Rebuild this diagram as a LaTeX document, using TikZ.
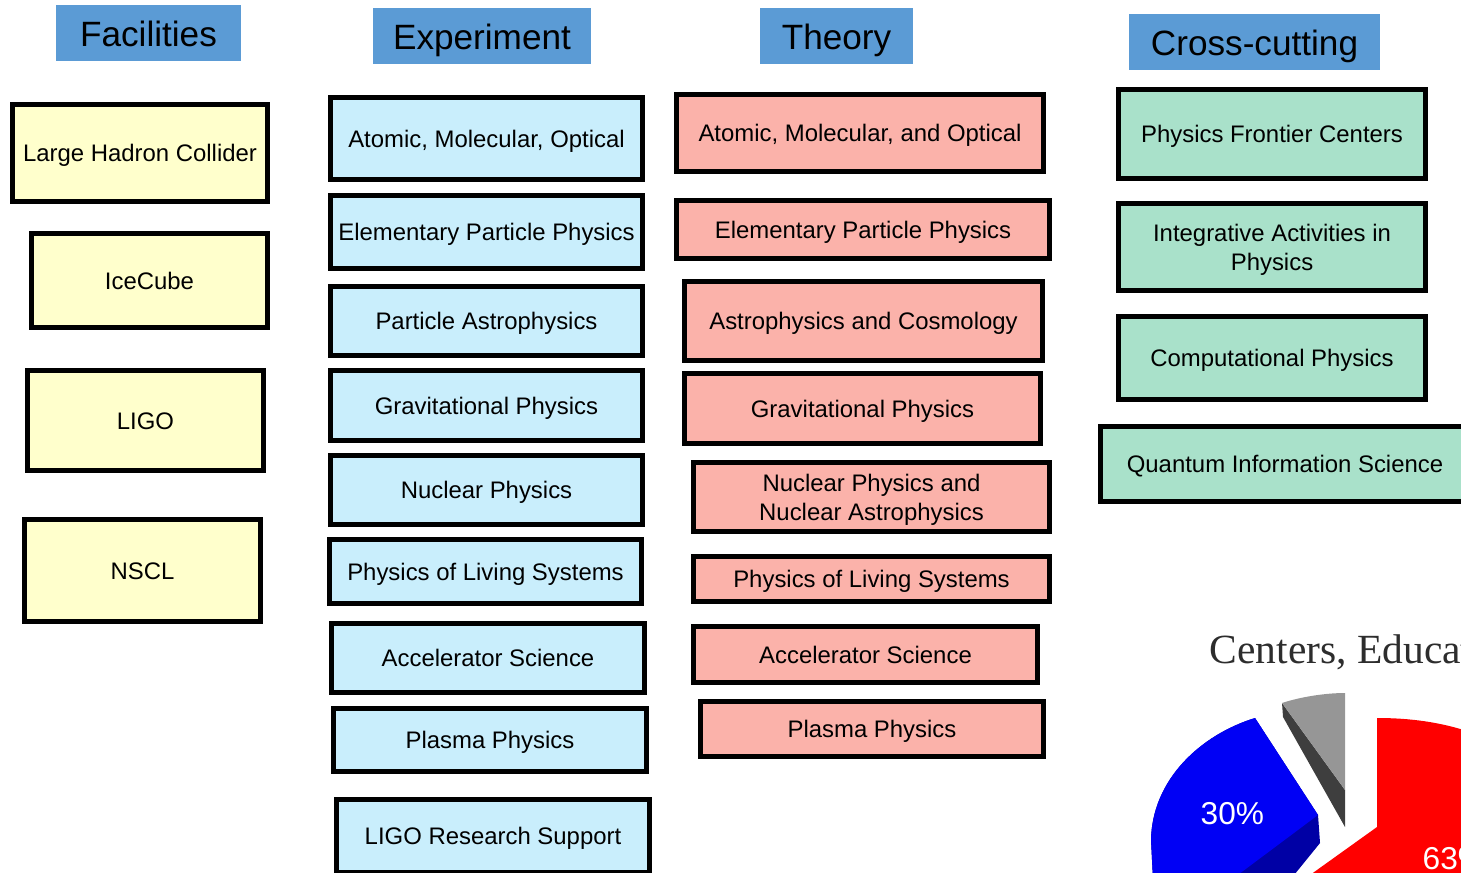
\documentclass[tikz,border=0pt]{standalone}
\usepackage{fontspec}
\setmainfont{Liberation Sans}
\newfontfamily\titleserif{Liberation Serif}
\usepackage{tikz}

\definecolor{hdrblue}{RGB}{91,155,213}
\definecolor{facyellow}{RGB}{255,255,204}
\definecolor{expblue}{RGB}{201,238,252}
\definecolor{theosalmon}{RGB}{251,178,170}
\definecolor{crossgreen}{RGB}{169,225,202}
\definecolor{titlegray}{RGB}{45,45,45}
\definecolor{pieblue}{RGB}{0,0,245}
\definecolor{piedarkblue}{RGB}{0,0,165}
\definecolor{piegray}{RGB}{150,150,150}
\definecolor{piedarkgray}{RGB}{62,62,62}
\definecolor{piered}{RGB}{255,0,0}

\begin{document}
\begin{tikzpicture}[x=0.01cm, y=-0.01cm,
    hdr/.style={fill=hdrblue, inner sep=0pt, text height=7.5pt, text depth=0pt,
                font=\fontsize{10}{12}\selectfont},
    box/.style={draw=black, line width=1.4pt, inner sep=0pt, align=center,
                text height=5.1pt, text depth=0pt, font=\fontsize{6.8}{8.2}\selectfont},
    twoline/.style={text height=13.3pt, text depth=0pt},
    fac/.style={box, fill=facyellow},
    expt/.style={box, fill=expblue, minimum width=3.12cm},
    theo/.style={box, fill=theosalmon},
    cross/.style={box, fill=crossgreen}]

    \useasboundingbox (0,0) rectangle (1461,873);
    \clip (0,0) rectangle (1461,873);

    % column headers
    \node[hdr, minimum width=1.85cm, minimum height=0.56cm] (hfac) at (148.5,33) {Facilities};
    \node[hdr, minimum width=2.18cm, minimum height=0.56cm] (hexp) at (482,36) {Experiment};
    \node[hdr, minimum width=1.53cm, minimum height=0.56cm] (htheo) at (836.5,36) {Theory};
    \node[hdr, minimum width=2.51cm, minimum height=0.56cm] (hcross) at (1254.5,42) {Cross-cutting};

    % facilities
    \node[fac, minimum width=2.55cm, minimum height=0.97cm] (lhc) at (140,153) {Large Hadron Collider};
    \node[fac, minimum width=2.36cm, minimum height=0.94cm] (ice) at (149.5,280.5) {IceCube};
    \node[fac, minimum width=2.36cm, minimum height=1.00cm] (ligo) at (145.5,420.5) {LIGO};
    \node[fac, minimum width=2.36cm, minimum height=1.02cm] (nscl) at (142.5,570.5) {NSCL};

    % experiment
    \node[expt, minimum height=0.82cm] (eamo) at (486.5,138.5) {Atomic, Molecular, Optical};
    \node[expt, minimum height=0.73cm] (eepp) at (486.5,232) {Elementary Particle Physics};
    \node[expt, minimum height=0.69cm] (epa) at (486.5,321) {Particle Astrophysics};
    \node[expt, minimum height=0.70cm] (egrav) at (486.5,405.5) {Gravitational Physics};
    \node[expt, minimum height=0.69cm] (enuc) at (486.5,490) {Nuclear Physics};
    \node[expt, minimum height=0.64cm] (epls) at (485.5,571.5) {Physics of Living Systems};
    \node[expt, minimum width=3.13cm, minimum height=0.69cm] (eacc) at (488,658) {Accelerator Science};
    \node[expt, minimum width=3.13cm, minimum height=0.63cm] (epla) at (490,740) {Plasma Physics};
    \node[expt, minimum width=3.13cm, minimum height=0.73cm] (eligo) at (493,836) {LIGO Research Support};

    % theory
    \node[theo, minimum width=3.67cm, minimum height=0.77cm] (tamo) at (860,133) {Atomic, Molecular, and Optical};
    \node[theo, minimum width=3.73cm, minimum height=0.58cm] (tepp) at (863,229.5) {Elementary Particle Physics};
    \node[theo, minimum width=3.58cm, minimum height=0.79cm] (tac) at (863.5,321) {Astrophysics and Cosmology};
    \node[theo, minimum width=3.56cm, minimum height=0.70cm] (tgrav) at (862.5,408.5) {Gravitational Physics};
    \node[theo, twoline, minimum width=3.56cm, minimum height=0.69cm] (tnuc) at (871.5,497) {Nuclear Physics and\\Nuclear Astrophysics};
    \node[theo, minimum width=3.56cm, minimum height=0.45cm] (tpls) at (871.5,579) {Physics of Living Systems};
    \node[theo, minimum width=3.44cm, minimum height=0.56cm] (tacc) at (865.5,654.5) {Accelerator Science};
    \node[theo, minimum width=3.43cm, minimum height=0.55cm] (tpla) at (872,729) {Plasma Physics};

    % cross-cutting
    \node[cross, minimum width=3.07cm, minimum height=0.89cm] (pfc) at (1272,134) {Physics Frontier Centers};
    \node[cross, twoline, minimum width=3.07cm, minimum height=0.87cm] (iap) at (1272,247) {Integrative Activities in\\Physics};
    \node[cross, minimum width=3.07cm, minimum height=0.83cm] (comp) at (1272,358) {Computational Physics};
    \node[cross, minimum width=3.69cm, minimum height=0.75cm] (qis) at (1285,464) {Quantum Information Science};

    % pie chart
    \node[anchor=base west, inner sep=0pt, text=titlegray, font=\titleserif\fontsize{11.8}{14}\selectfont]
        (pietitle) at (1209,663) {Centers, Education};
    \fill[piedarkblue] (1255,718) .. controls (1200,735) and (1152,780) .. (1151,840) -- (1153,880)
        -- (1290,880) -- (1320,843) -- (1318,815) -- cycle;
    \fill[pieblue] (1255,718) .. controls (1200,735) and (1152,780) .. (1151,840) -- (1153,880)
        -- (1231,880) -- (1318,815) -- cycle;
    \fill[piedarkgray] (1282,703) -- (1345,790) -- (1345,827) -- (1283,717) -- cycle;
    \fill[piegray] (1282,703) .. controls (1300,697) and (1325,693) .. (1345,693) -- (1345,790) -- cycle;
    \fill[piered] (1377,718) .. controls (1410,718) and (1440,722) .. (1470,732) -- (1470,880)
        -- (1303,880) -- (1377,827) -- cycle;
    \node[anchor=base west, inner sep=0pt, text=white, font=\fontsize{9}{11}\selectfont] (pblue) at (1200,824) {30\%};
    \node[anchor=base west, inner sep=0pt, text=white, font=\fontsize{9}{11}\selectfont] (pred) at (1422,869) {63\%};
\end{tikzpicture}
\end{document}
